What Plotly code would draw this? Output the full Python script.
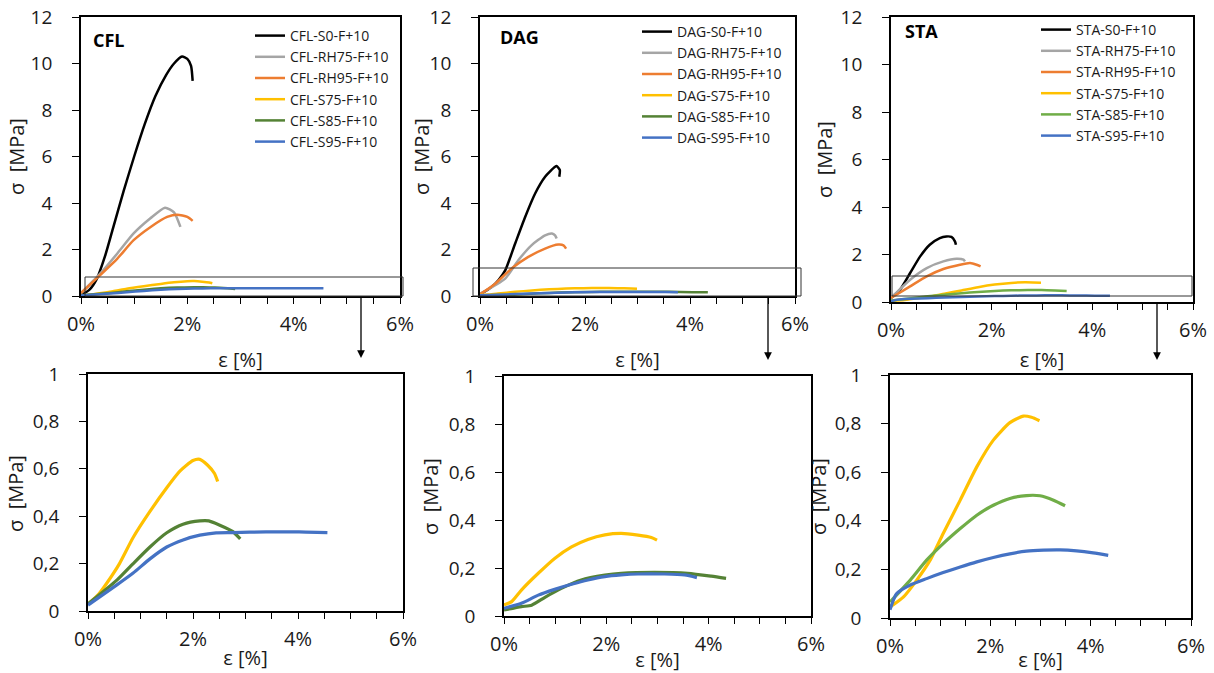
import plotly.graph_objects as go

W, H = 1214, 673

# ---------------- data (strain in %, stress in MPa) ----------------
panels = ["CFL", "DAG", "STA"]
series_suffix = ["S0", "RH75", "RH95", "S75", "S85", "S95"]

# CFL
cfl_s0_x = [0, 0.15, 0.3, 0.45, 0.6, 0.8, 1.0, 1.2, 1.4, 1.6, 1.75, 1.9, 2.0, 2.07, 2.1]
cfl_s0_y = [0.05, 0.25, 0.75, 1.7, 2.9, 4.5, 6.0, 7.4, 8.6, 9.5, 10.0, 10.3, 10.2, 9.9, 9.25]
cfl_rh75_x = [0, 0.36, 0.68, 0.99, 1.3, 1.58, 1.75, 1.87]
cfl_rh75_y = [0.12, 0.96, 1.82, 2.69, 3.33, 3.8, 3.6, 2.97]
cfl_rh95_x = [0, 0.36, 0.68, 0.99, 1.31, 1.62, 1.81, 2.0, 2.1]
cfl_rh95_y = [0.13, 0.9, 1.6, 2.4, 2.97, 3.4, 3.5, 3.4, 3.23]
cfl_s75_x = [0, 0.2, 0.35, 0.6, 0.86, 1.18, 1.5, 1.75, 2.0, 2.13, 2.28, 2.41, 2.47]
cfl_s75_y = [0.028, 0.07, 0.115, 0.2, 0.31, 0.42, 0.52, 0.59, 0.635, 0.64, 0.615, 0.58, 0.546]
cfl_s85_x = [0, 0.55, 0.86, 1.18, 1.5, 1.81, 2.13, 2.3, 2.5, 2.76, 2.9]
cfl_s85_y = [0.03, 0.13, 0.2, 0.27, 0.33, 0.366, 0.38, 0.38, 0.363, 0.335, 0.304]
cfl_s95_x = [0, 0.55, 0.86, 1.18, 1.5, 1.81, 2.13, 2.44, 2.76, 3.39, 4.02, 4.56]
cfl_s95_y = [0.025, 0.11, 0.16, 0.22, 0.27, 0.30, 0.32, 0.33, 0.331, 0.334, 0.334, 0.331]

# DAG
dag_s0_x = [0, 0.22, 0.35, 0.48, 0.67, 0.86, 1.05, 1.24, 1.43, 1.46, 1.52, 1.51]
dag_s0_y = [0.07, 0.39, 0.68, 1.1, 2.26, 3.4, 4.41, 5.13, 5.56, 5.59, 5.42, 5.13]
dag_rh75_x = [0, 0.48, 0.73, 0.98, 1.24, 1.37, 1.43, 1.46]
dag_rh75_y = [0.1, 0.75, 1.54, 2.18, 2.61, 2.69, 2.61, 2.47]
dag_rh95_x = [0, 0.29, 0.6, 0.92, 1.24, 1.49, 1.59, 1.64]
dag_rh95_y = [0.07, 0.53, 1.18, 1.68, 2.04, 2.21, 2.18, 2.04]
dag_s75_x = [0, 0.15, 0.34, 0.67, 0.99, 1.32, 1.64, 1.97, 2.29, 2.62, 2.88, 2.99]
dag_s75_y = [0.046, 0.06, 0.108, 0.178, 0.24, 0.288, 0.319, 0.338, 0.344, 0.337, 0.327, 0.316]
dag_s85_x = [0, 0.34, 0.54, 0.8, 1.12, 1.51, 1.97, 2.29, 2.94, 3.59, 4.05, 4.34]
dag_s85_y = [0.025, 0.039, 0.045, 0.078, 0.115, 0.15, 0.17, 0.178, 0.182, 0.178, 0.166, 0.157]
dag_s95_x = [0, 0.34, 0.67, 0.99, 1.32, 1.64, 1.97, 2.29, 2.62, 3.14, 3.53, 3.77]
dag_s95_y = [0.032, 0.053, 0.087, 0.111, 0.132, 0.15, 0.164, 0.171, 0.175, 0.175, 0.171, 0.16]

# STA
sta_s0_x = [0, 0.18, 0.38, 0.58, 0.77, 0.97, 1.1, 1.2, 1.27, 1.29]
sta_s0_y = [0.17, 0.52, 1.22, 1.92, 2.41, 2.69, 2.76, 2.74, 2.55, 2.41]
sta_rh75_x = [0, 0.38, 0.71, 1.04, 1.3, 1.44, 1.47]
sta_rh75_y = [0.17, 0.94, 1.43, 1.71, 1.82, 1.78, 1.71]
sta_rh95_x = [0, 0.38, 0.71, 1.04, 1.37, 1.57, 1.7, 1.78]
sta_rh95_y = [0.17, 0.66, 1.08, 1.39, 1.57, 1.64, 1.57, 1.5]
sta_s75_x = [0, 0.27, 0.53, 0.8, 1.06, 1.4, 1.73, 2.06, 2.39, 2.66, 2.82, 2.98]
sta_s75_y = [0.045, 0.087, 0.155, 0.238, 0.348, 0.485, 0.622, 0.732, 0.804, 0.831, 0.826, 0.812]
sta_s85_x = [0, 0.4, 0.73, 1.06, 1.4, 1.73, 2.06, 2.39, 2.72, 2.99, 3.26, 3.49]
sta_s85_y = [0.066, 0.155, 0.238, 0.306, 0.368, 0.423, 0.464, 0.492, 0.504, 0.503, 0.485, 0.462]
sta_s95_x = [0, 0.13, 0.4, 0.73, 1.06, 1.4, 1.73, 2.06, 2.39, 2.72, 3.06, 3.39, 3.72, 4.05, 4.35]
sta_s95_y = [0.034, 0.1, 0.135, 0.162, 0.187, 0.21, 0.231, 0.249, 0.264, 0.275, 0.279, 0.28, 0.276, 0.268, 0.258]

data = {
    "CFL": [(cfl_s0_x, cfl_s0_y), (cfl_rh75_x, cfl_rh75_y), (cfl_rh95_x, cfl_rh95_y),
            (cfl_s75_x, cfl_s75_y), (cfl_s85_x, cfl_s85_y), (cfl_s95_x, cfl_s95_y)],
    "DAG": [(dag_s0_x, dag_s0_y), (dag_rh75_x, dag_rh75_y), (dag_rh95_x, dag_rh95_y),
            (dag_s75_x, dag_s75_y), (dag_s85_x, dag_s85_y), (dag_s95_x, dag_s95_y)],
    "STA": [(sta_s0_x, sta_s0_y), (sta_rh75_x, sta_rh75_y), (sta_rh95_x, sta_rh95_y),
            (sta_s75_x, sta_s75_y), (sta_s85_x, sta_s85_y), (sta_s95_x, sta_s95_y)],
}

x_ticks = [0, 2, 4, 6]
x_tick_text = ["0%", "2%", "4%", "6%"]
top_y_ticks = [0, 2, 4, 6, 8, 10, 12]
bottom_y_ticks = [0, 0.2, 0.4, 0.6, 0.8, 1]
bottom_y_text = ["0", "0,2", "0,4", "0,6", "0,8", "1"]
x_title = "ε [%]"
y_title = "σ  [MPa]"

# ---------------- styling ----------------
base_colors = ["#000000", "#A5A5A5", "#ED7D31", "#FFC000", None, "#4472C4"]
green = {"CFL": "#548235", "DAG": "#548235", "STA": "#70AD47"}
FONT = "Open Sans"
TXT = "#1a1a1a"

def px(x0, x1):
    return [x0 / W, x1 / W]

def py(ytop, ybot):
    return [1 - ybot / H, 1 - ytop / H]

top_dom = [(px(81, 400), py(17, 296)), (px(480, 795), py(17, 296)), (px(891, 1193), py(17, 302))]
bot_dom = [(px(88, 403), py(374, 611)), (px(504, 811), py(376, 616)), (px(890, 1191), py(375, 618))]
top_title_standoff = [17, 17, 11]

fig = go.Figure()
layout = dict(width=W, height=H, margin=dict(l=0, r=0, t=0, b=0),
              paper_bgcolor="white", plot_bgcolor="white",
              font=dict(family=FONT, color=TXT))

def xaxis(dom, anchor, title_standoff):
    return dict(domain=dom, anchor=anchor, range=[0, 6], tickvals=x_ticks, ticktext=x_tick_text,
                automargin=False,
                showgrid=False, zeroline=False, showline=True, linecolor="black", linewidth=1.8,
                mirror=True, ticks="outside", ticklen=6, tickcolor="black", tickwidth=1,
                minor=dict(tickvals=[0.5, 1, 1.5, 2.5, 3, 3.5, 4.5, 5, 5.5], ticks="outside",
                           ticklen=6, tickcolor="black", tickwidth=1),
                tickfont=dict(size=20, family=FONT, color=TXT), ticklabelstandoff=3,
                title=dict(text=x_title, font=dict(size=20, family=FONT, color=TXT),
                           standoff=title_standoff))

def yaxis(dom, anchor, rng, ticks, text=None):
    d = dict(domain=dom, anchor=anchor, range=rng, tickvals=ticks, automargin=False,
             showgrid=False, zeroline=False, showline=True, linecolor="black", linewidth=1.8,
             mirror=True, ticks="outside", ticklen=7, tickcolor="black", tickwidth=1,
             tickfont=dict(size=19, family=FONT, color=TXT), ticklabelstandoff=16)
    if text is not None:
        d["ticktext"] = text
    return d

for i, name in enumerate(panels):
    ti = i + 1
    bi = i + 4
    tx, ty = ("x" if ti == 1 else f"x{ti}"), ("y" if ti == 1 else f"y{ti}")
    bx, by = f"x{bi}", f"y{bi}"
    lkey = "legend" if i == 0 else f"legend{i + 1}"
    cols = base_colors[:]
    cols[4] = green[name]
    for j, (xs, ys) in enumerate(data[name]):
        fig.add_trace(go.Scatter(x=xs, y=ys, mode="lines", xaxis=tx, yaxis=ty,
                                 line=dict(color=cols[j], width=2.5, shape="spline", smoothing=0.6),
                                 name=f"{name}-{series_suffix[j]}-F+10", legend=lkey))
    for j in range(3, 6):
        xs, ys = data[name][j]
        fig.add_trace(go.Scatter(x=xs, y=ys, mode="lines", xaxis=bx, yaxis=by, showlegend=False,
                                 line=dict(color=cols[j], width=3.2, shape="spline", smoothing=0.6)))
    layout["xaxis" if ti == 1 else f"xaxis{ti}"] = xaxis(top_dom[i][0], ty, top_title_standoff[i])
    layout["yaxis" if ti == 1 else f"yaxis{ti}"] = yaxis(top_dom[i][1], tx, [0, 12], top_y_ticks)
    layout[f"xaxis{bi}"] = xaxis(bot_dom[i][0], by, 0)
    layout[f"yaxis{bi}"] = yaxis(bot_dom[i][1], bx, [0, 1], bottom_y_ticks, bottom_y_text)

# legends
leg_pos = [(250, 20), (637, 16), (1036, 14)]
for i, (lx, ly) in enumerate(leg_pos):
    key = "legend" if i == 0 else f"legend{i + 1}"
    layout[key] = dict(x=lx / W, y=1 - ly / H, xanchor="left", yanchor="top",
                       bgcolor="rgba(0,0,0,0)", borderwidth=0, tracegroupgap=0,
                       font=dict(size=14, family=FONT, color=TXT), itemwidth=30)

fig.update_layout(**layout)

# y-axis titles (rotated text)
ytitle_pos = [(16, 157), (421, 157), (824, 160), (16, 494), (430, 497), (818, 497)]
for (tx_, ty_) in ytitle_pos:
    fig.add_annotation(x=tx_ / W, y=1 - ty_ / H, xref="paper", yref="paper", text=y_title,
                       textangle=-90, showarrow=False, xanchor="center", yanchor="middle",
                       font=dict(size=20, family=FONT, color=TXT))

# panel labels
label_pos = [(91, 40), (498, 37), (903, 31)]
for name, (lx, ly) in zip(panels, label_pos):
    fig.add_annotation(x=lx / W, y=1 - ly / H, xref="paper", yref="paper", text=f"<b>{name}</b>",
                       showarrow=False, xanchor="left", yanchor="middle",
                       font=dict(size=18, family=FONT, color="black"))

# zoom rectangles on top panels
rects = [(85, 277, 403, 296), (473, 268, 801, 296), (892, 276, 1192, 296)]
for (x0, y0, x1, y1) in rects:
    fig.add_shape(type="rect", xref="paper", yref="paper", x0=x0 / W, x1=x1 / W,
                  y0=1 - y1 / H, y1=1 - y0 / H, line=dict(color="#333333", width=1))

# arrows from top to bottom panels
arrows = [(361, 296, 358), (768, 296, 360), (1157, 302, 360)]
for (ax_, y0, y1) in arrows:
    fig.add_annotation(x=ax_ / W, y=1 - y1 / H, xref="paper", yref="paper", text="",
                       showarrow=True, arrowhead=2, arrowsize=1.2, arrowwidth=1.3, arrowcolor="black",
                       axref="pixel", ayref="pixel", ax=0, ay=-(y1 - y0), standoff=0)

fig.write_html("out.html", config={"displayModeBar": False},
               post_script="document.body.style.margin='0px';document.body.style.overflow='hidden';")
